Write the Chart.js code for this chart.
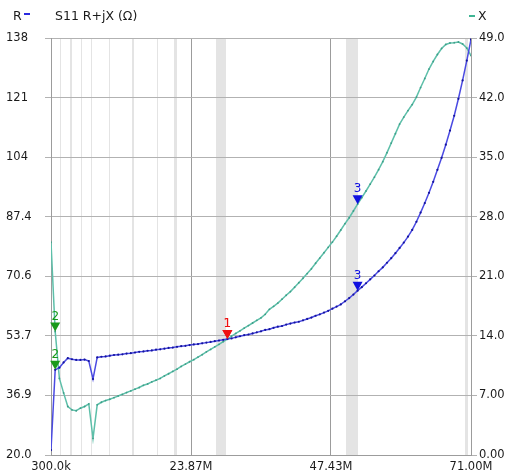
<!DOCTYPE html>
<html>
<head>
<meta charset="utf-8">
<script src="https://cdn.jsdelivr.net/npm/chart.js@4/dist/chart.umd.min.js"></script>
<style>
  html, body { margin: 0; padding: 0; background: #ffffff; }
  #wrap { width: 507px; height: 473px; }
</style>
</head>
<body>
<div id="wrap"><canvas id="c" width="507" height="473"></canvas></div>
<script>
// Sweep frequencies (MHz)
const freqMHz = [
  0.300, 1.007, 1.714, 2.421, 3.128, 3.835, 4.542, 5.249, 5.956, 6.663,
  7.370, 8.077, 8.784, 9.491, 10.198, 10.905, 11.612, 12.319, 13.026, 13.733,
  14.440, 15.147, 15.854, 16.561, 17.268, 17.975, 18.682, 19.389, 20.096, 20.803,
  21.510, 22.217, 22.924, 23.631, 24.338, 25.045, 25.752, 26.459, 27.166, 27.873,
  28.580, 29.287, 29.994, 30.701, 31.408, 32.115, 32.822, 33.529, 34.236, 34.943,
  35.650, 36.357, 37.064, 37.771, 38.478, 39.185, 39.892, 40.599, 41.306, 42.013,
  42.720, 43.427, 44.134, 44.841, 45.548, 46.255, 46.962, 47.669, 48.376, 49.083,
  49.790, 50.497, 51.204, 51.911, 52.618, 53.325, 54.032, 54.739, 55.446, 56.153,
  56.860, 57.567, 58.274, 58.981, 59.688, 60.395, 61.102, 61.809, 62.516, 63.223,
  63.930, 64.637, 65.344, 66.051, 66.758, 67.465, 68.172, 68.879, 69.586, 70.293,
  71.000
];

// Resistance R (ohm)
const resistance = [
  21.4, 44.1, 44.7, 46.2, 47.4, 47.1, 46.9, 46.9, 47.0, 46.6,
  41.5, 47.6, 47.8, 47.9, 48.1, 48.3, 48.4, 48.5, 48.7, 48.8,
  49.0, 49.2, 49.3, 49.5, 49.6, 49.8, 49.9, 50.1, 50.3, 50.4,
  50.6, 50.8, 50.9, 51.1, 51.3, 51.4, 51.6, 51.8, 52.0, 52.2,
  52.4, 52.6, 52.8, 53.0, 53.3, 53.6, 53.9, 54.1, 54.4, 54.7,
  55.0, 55.4, 55.6, 56.0, 56.3, 56.5, 56.9, 57.2, 57.5, 57.7,
  58.1, 58.5, 58.9, 59.4, 59.8, 60.3, 60.8, 61.4, 62.0, 62.6,
  63.5, 64.4, 65.4, 66.5, 67.5, 68.6, 69.7, 70.8, 72.0, 73.1,
  74.4, 75.7, 77.1, 78.6, 80.1, 81.8, 83.7, 86.0, 88.6, 91.3,
  94.2, 97.3, 100.7, 104.1, 107.8, 111.8, 116.0, 120.8, 126.0, 131.6,
  137.6
];

// Reactance X (ohm)
const reactance = [
  25.0, 14.5, 9.0, 7.3, 5.7, 5.3, 5.2, 5.5, 5.7, 6.0,
  1.96, 5.9, 6.2, 6.4, 6.55, 6.74, 6.94, 7.13, 7.34, 7.53,
  7.74, 7.93, 8.19, 8.35, 8.59, 8.79, 9.0, 9.29, 9.55, 9.82,
  10.08, 10.41, 10.68, 10.96, 11.2, 11.51, 11.79, 12.12, 12.4, 12.71,
  13.0, 13.32, 13.62, 13.97, 14.28, 14.59, 14.92, 15.21, 15.51, 15.82,
  16.12, 16.53, 17.12, 17.47, 17.85, 18.31, 18.77, 19.2, 19.71, 20.24,
  20.77, 21.32, 21.88, 22.53, 23.14, 23.77, 24.4, 25.02, 25.71, 26.44,
  27.18, 27.88, 28.67, 29.47, 30.24, 31.02, 31.82, 32.65, 33.53, 34.47,
  35.53, 36.65, 37.76, 38.88, 39.71, 40.47, 41.18, 42.06, 43.18, 44.24,
  45.35, 46.24, 47.06, 47.77, 48.24, 48.41, 48.45, 48.53, 48.3, 47.82,
  46.94
];

// Axis ticks
const freqTicks = [0.3, 23.8667, 47.4333, 71.0];
const freqTickLabels = ['300.0k', '23.87M', '47.43M', '71.00M'];
const rTicks = [20.0, 36.857, 53.714, 70.571, 87.429, 104.286, 121.143, 138.0];
const rTickLabels = ['20.0', '36.9', '53.7', '70.6', '87.4', '104', '121', '138'];
const xTicks = [0, 7, 14, 21, 28, 35, 42, 49];
const xTickLabels = ['0.00', '7.00', '14.0', '21.0', '28.0', '35.0', '42.0', '49.0'];

// Amateur band segments (MHz) shaded behind the traces
const bandStart = [1.8, 3.5, 5.35, 7.0, 10.1, 14.0, 18.068, 21.0, 28.0, 50.0, 70.0];
const bandStop  = [2.0, 3.8, 5.45, 7.2, 10.15, 14.35, 18.168, 21.45, 29.7, 52.0, 70.5];

// Markers: sweep index and label
const markerIndex = [42, 1, 73];
const markerLabel = ['1', '2', '3'];
const markerColor = ['#ee1111', '#1a9a1a', '#1010e0'];

const titleText = 'S11 R+jX (\u03A9)';
const rLegend = 'R';
const xLegend = 'X';

const FONT = 'DejaVu Sans';
const rColor = '#4a4ae2';
const xColor = '#5dbfa9';

const bandsPlugin = {
  id: 'bands',
  beforeDraw(chart) {
    const { ctx, chartArea, scales } = chart;
    const sx = scales.x;
    ctx.save();
    ctx.fillStyle = '#e4e4e4';
    for (let i = 0; i < bandStart.length; i++) {
      const a = sx.getPixelForValue(bandStart[i]);
      const b = sx.getPixelForValue(bandStop[i]);
      const w = Math.max(1, b - a);
      ctx.fillRect(Math.round(a), chartArea.top, Math.round(w), chartArea.bottom - chartArea.top);
    }
    ctx.restore();
  }
};

const overlayPlugin = {
  id: 'overlay',
  afterDraw(chart) {
    const { ctx, scales } = chart;
    ctx.save();
    // header
    ctx.font = '12.5px "' + FONT + '"';
    ctx.textBaseline = 'middle';
    ctx.fillStyle = '#1a1a1a';
    ctx.textAlign = 'left';
    ctx.fillText(rLegend, 13, 17);
    ctx.fillText(titleText, 55, 17);
    ctx.fillText(xLegend, 478, 17);
    ctx.fillStyle = '#2a2ae0';
    ctx.fillRect(24, 13, 6, 2);
    ctx.fillStyle = '#3fb594';
    ctx.fillRect(469, 15, 6, 2);

    // markers
    const traces = [
      { data: resistance, scale: scales.yR },
      { data: reactance, scale: scales.yX }
    ];
    ctx.font = '12px "' + FONT + '"';
    ctx.textAlign = 'center';
    ctx.textBaseline = 'bottom';
    for (let m = 0; m < markerIndex.length; m++) {
      const idx = markerIndex[m];
      const px = scales.x.getPixelForValue(freqMHz[idx]);
      for (const t of traces) {
        const py = t.scale.getPixelForValue(t.data[idx]);
        ctx.fillStyle = markerColor[m];
        ctx.beginPath();
        ctx.moveTo(px, py);
        ctx.lineTo(px - 5, py - 9);
        ctx.lineTo(px + 5, py - 9);
        ctx.closePath();
        ctx.fill();
        ctx.fillText(markerLabel[m], px, py - 9);
      }
    }
    ctx.restore();
  }
};

const tickFont = { family: FONT, size: 11.5 };
const tickColor = '#1a1a1a';

new Chart(document.getElementById('c'), {
  type: 'line',
  data: {
    datasets: [
      {
        label: 'R',
        data: freqMHz.map((f, i) => ({ x: f, y: resistance[i] })),
        yAxisID: 'yR',
        borderColor: rColor,
        borderWidth: 1.5,
        pointRadius: 1.1,
        pointBorderWidth: 0,
        pointBackgroundColor: '#14149c',
        tension: 0
      },
      {
        label: 'X',
        data: freqMHz.map((f, i) => ({ x: f, y: reactance[i] })),
        yAxisID: 'yX',
        borderColor: xColor,
        borderWidth: 1.5,
        pointRadius: 0.9,
        pointBorderWidth: 0,
        pointBackgroundColor: '#3e9e89',
        tension: 0
      }
    ]
  },
  options: {
    responsive: false,
    animation: false,
    events: [],
    layout: { padding: { top: 38, left: 6, right: 0, bottom: 0 } },
    plugins: { legend: { display: false }, tooltip: { enabled: false }, title: { display: false } },
    scales: {
      x: {
        type: 'linear',
        min: 0.3,
        max: 71.0,
        afterBuildTicks: s => { s.ticks = freqTicks.map(v => ({ value: v })); },
        afterFit: s => { s.height = 18; },
        ticks: {
          autoSkip: false,
          maxRotation: 0,
          padding: 5,
          color: tickColor,
          font: tickFont,
          callback: (v, i) => freqTickLabels[i]
        },
        grid: { color: '#9c9c9c', drawTicks: false, lineWidth: 1 },
        border: { display: true, color: '#9c9c9c' }
      },
      yR: {
        type: 'linear',
        position: 'left',
        min: 20,
        max: 138,
        afterBuildTicks: s => { s.ticks = rTicks.map(v => ({ value: v })); },
        afterFit: s => { s.width = 45; },
        ticks: {
          autoSkip: false,
          crossAlign: 'far',
          color: tickColor,
          font: tickFont,
          callback: (v, i) => rTickLabels[i]
        },
        grid: { color: '#b2b2b2', tickLength: 6, lineWidth: 1 },
        border: { display: true, color: '#9c9c9c' }
      },
      yX: {
        type: 'linear',
        position: 'right',
        min: 0,
        max: 49,
        afterBuildTicks: s => { s.ticks = xTicks.map(v => ({ value: v })); },
        afterFit: s => { s.width = 36; },
        ticks: {
          autoSkip: false,
          padding: 2,
          color: tickColor,
          font: tickFont,
          callback: (v, i) => xTickLabels[i]
        },
        grid: { color: '#b2b2b2', tickLength: 6, drawOnChartArea: false, lineWidth: 1 },
        border: { display: true, color: '#9c9c9c' }
      }
    }
  },
  plugins: [bandsPlugin, overlayPlugin]
});
</script>
</body>
</html>
